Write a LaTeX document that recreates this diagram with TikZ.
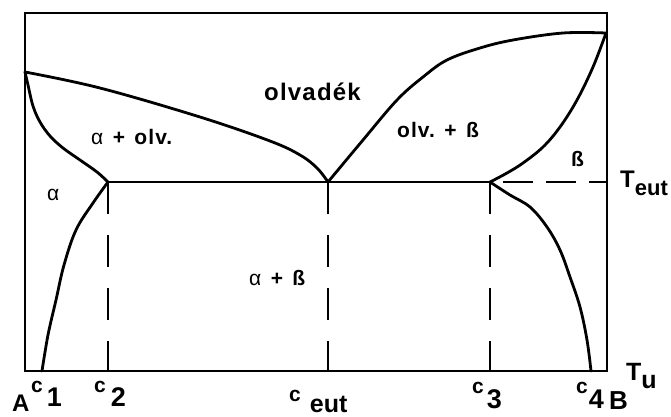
\documentclass[tikz,border=0pt]{standalone}
\usepackage{fontspec}
\setmainfont{Liberation Sans}
\newcommand\setfs[1]{\fontsize{#1}{#1}\selectfont}
\newcommand\gap{\hspace{0.45em}}
\begin{document}
\begin{tikzpicture}[x=1pt,y=-1pt,
  frame/.style={line width=2.6pt},
  curve/.style={line width=2.8pt, line join=round, line cap=round},
  vdash/.style={line width=2.6pt, dash pattern=on 32pt off 21pt},
  hdash/.style={line width=2.6pt, dash pattern=on 30pt off 13pt, dash phase=30pt},
  region/.style={inner sep=0pt, font=\bfseries\setfs{21}},
  lbl/.style={inner sep=0pt, anchor=base west, font=\bfseries}]
\useasboundingbox (0,0) rectangle (671,416);
% key points
\coordinate (TA) at (25,72);
\coordinate (TB) at (606,33);
\coordinate (E) at (328,182);
\coordinate (P2) at (108,182);
\coordinate (P3) at (490,182);
\coordinate (R) at (607,182);
\coordinate (C1) at (42,371);
\coordinate (C2) at (108,371);
\coordinate (CE) at (328,371);
\coordinate (C3) at (490,371);
\coordinate (C4) at (591,371);
% frame
\draw[frame] (25,13) rectangle (607,371);
% eutectic line
\draw[frame] (P2) -- (P3);
\draw[hdash] (P3) -- (R);
\draw[vdash] (P2) -- (C2);
\draw[vdash] (E) -- (CE);
\draw[vdash] (P3) -- (C3);
% left liquidus
\draw[curve] plot[smooth, tension=0.6] coordinates {(TA) (100,88) (200,117) (270,141) (300,155) (317,168) (E)};
% left solidus
\draw[curve] plot[smooth, tension=0.6] coordinates {(TA) (28,85) (33,106) (40,122) (50,136) (63,148) (80,160) (97,172) (P2)};
% left solvus
\draw[curve] plot[smooth, tension=0.6] coordinates {(P2) (93,203) (76,230) (64,265) (56,300) (48,335) (C1)};
% right liquidus
\draw[curve] plot[smooth, tension=0.6] coordinates {(E) (363,140) (397,100) (423,77) (447,60) (480,48) (513,40) (563,33) (TB)};
% right solidus
\draw[curve] plot[smooth, tension=0.6] coordinates {(TB) (593,67) (577,100) (560,127) (543,147) (523,163) (507,173) (P3)};
% right solvus
\draw[curve] plot[smooth, tension=0.6] coordinates {(P3) (510,195) (530,207) (547,227) (560,250) (570,277) (580,307) (587,340) (C4)};
% region labels
\node[region, font=\bfseries\setfs{24}, anchor=base west] (liq) at (264,100) {\addfontfeature{LetterSpace=5}olvadék};
\node[region, anchor=base west] (al) at (91,144) {{\mdseries α}\gap+\gap\addfontfeature{LetterSpace=5}olv.};
\node[region, anchor=base west] (lb) at (397,137) {\addfontfeature{LetterSpace=5}olv.\gap+\gap ß};
\node[region, anchor=base west] (b) at (571,166) {ß};
\node[region, anchor=base west] (a) at (47,200) {\mdseries α};
\node[region, anchor=base west] (ab) at (249,285) {{\mdseries α}\gap+\gap ß};
% axis labels
\node[lbl, font=\bfseries\setfs{24}] (lA) at (12,411) {A};
\node[lbl] (lc1) at (31,392) {\setfs{21}c\hspace{4pt}\raisebox{-14pt}{\setfs{27}1}};
\node[lbl] (lc2) at (94,392) {\setfs{21}c\hspace{5pt}\raisebox{-14pt}{\setfs{27}2}};
\node[lbl] (lce) at (289,401) {\setfs{21}c\hspace{9pt}\raisebox{-11pt}{\setfs{25}eut}};
\node[lbl] (lc3) at (472,393) {\setfs{21}c\hspace{3pt}\raisebox{-15pt}{\setfs{27}3}};
\node[lbl] (lc4) at (576,393) {\setfs{21}c\hspace{1pt}\raisebox{-15pt}{\setfs{27}4}};
\node[lbl, font=\bfseries\setfs{26}] (lB) at (609,409) {B};
\node[lbl] (lTu) at (626,380) {\setfs{25}T\raisebox{-8pt}{\setfs{25}u}};
\node[lbl] (lTe) at (620,187) {\setfs{24}T\raisebox{-8pt}{\setfs{22}eut}};
\end{tikzpicture}
\end{document}
